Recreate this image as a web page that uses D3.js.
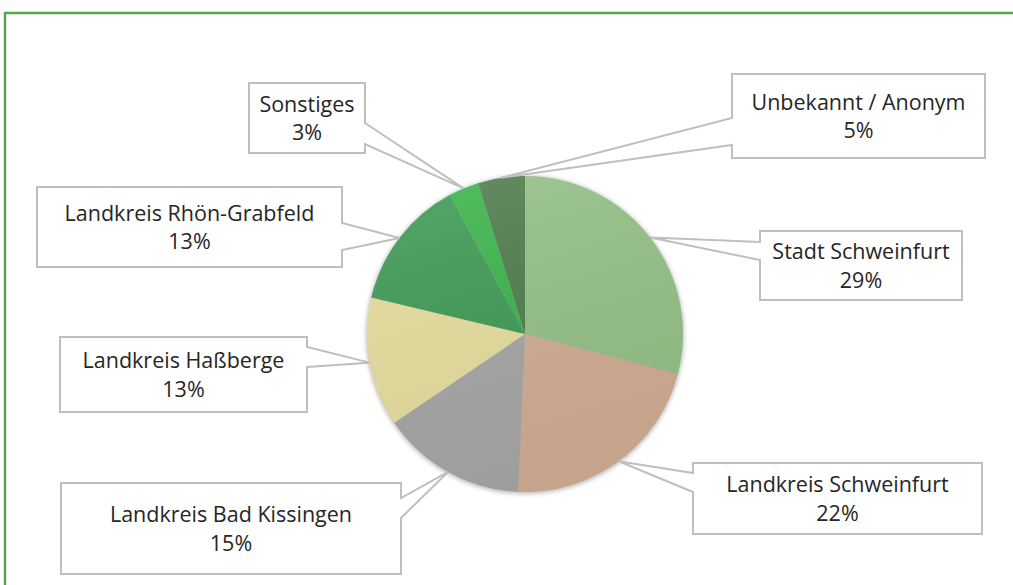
<!DOCTYPE html>
<meta charset="utf-8">
<style>
body { margin: 0; background: #fff; }
.label text { font: 21.5px "Open Sans", sans-serif; fill: #262626; }
</style>
<svg width="1013" height="585"></svg>
<script src="https://d3js.org/d3.v7.min.js"></script>
<script>

var names = ["Stadt Schweinfurt", "Landkreis Schweinfurt", "Landkreis Bad Kissingen",
    "Landkreis Haßberge", "Landkreis Rhön-Grabfeld", "Sonstiges", "Unbekannt / Anonym"];
var shares = [29.1, 21.6, 14.8, 13.2, 13.4, 3.1, 4.8];
var colors = ["#96c287", "#d3ae95", "#a8a8a8", "#e8df9f", "#409c57", "#3db64c", "#507f4e"];

// callout boxes: x, y, w, h, side the wedge leaves from, wedge start/end along that side
var boxes = [
  [760, 231, 202, 69, "left", 11, 29],
  [693, 463, 289, 71, "left", 10, 29],
  [61, 483, 340, 91, "right", 15, 35],
  [60, 337, 247, 75, "right", 10, 30],
  [37, 187, 305, 80, "right", 36, 63],
  [249, 83, 116, 70, "right", 40, 61],
  [732, 74, 253, 84, "left", 44, 71]
];

var svg = d3.select("svg"),
    cx = 525, cy = 334, radius = 158;

var defs = svg.append("defs");
var grad = defs.append("linearGradient")
    .attr("id", "shade").attr("x1", 0).attr("y1", 0).attr("x2", 0.3).attr("y2", 1);
grad.append("stop").attr("offset", "0%").attr("stop-color", "#fff").attr("stop-opacity", 0.12);
grad.append("stop").attr("offset", "100%").attr("stop-color", "#000").attr("stop-opacity", 0.06);

var blur = defs.append("filter").attr("id", "soft")
    .attr("x", "-10%").attr("y", "-10%").attr("width", "120%").attr("height", "120%");
blur.append("feGaussianBlur").attr("stdDeviation", 2);

// frame
svg.append("path")
    .attr("d", "M5,585V13H1013")
    .attr("fill", "none")
    .attr("stroke", "#52a84f")
    .attr("stroke-width", 2.5);

var data = names.map(function(n, i) { return {name: n, value: shares[i], color: colors[i]}; });

var pie = d3.pie().sort(null).value(function(d) { return d.value; });
var arc = d3.arc().innerRadius(0).outerRadius(radius);
var arcs = pie(data);

var g = svg.append("g").attr("transform", "translate(" + cx + "," + cy + ")");

g.append("circle").attr("r", radius + 1).attr("cy", 1)
    .attr("fill", "#bbb").attr("filter", "url(#soft)");

g.selectAll("path.slice").data(arcs).enter().append("path")
    .attr("class", "slice")
    .attr("d", arc)
    .attr("fill", function(d) { return d.data.color; });

g.append("circle").attr("r", radius).attr("fill", "url(#shade)");

// callouts
var lab = svg.append("g").attr("class", "label").selectAll("g").data(arcs).enter().append("g");

lab.append("path")
    .attr("fill", "#fff")
    .attr("stroke", "#bfbfbf")
    .attr("stroke-width", 2)
    .attr("stroke-linejoin", "miter")
    .attr("d", function(d, i) {
      var b = boxes[i], x = b[0], y = b[1], w = b[2], h = b[3];
      var a = (d.startAngle + d.endAngle) / 2;
      var tx = cx + radius * Math.sin(a), ty = cy - radius * Math.cos(a);
      if (b[4] === "left") {
        return "M" + x + "," + y + "H" + (x + w) + "V" + (y + h) + "H" + x +
            "V" + (y + b[6]) + "L" + tx + "," + ty + "L" + x + "," + (y + b[5]) + "Z";
      }
      return "M" + x + "," + y + "H" + (x + w) + "V" + (y + b[5]) + "L" + tx + "," + ty +
          "L" + (x + w) + "," + (y + b[6]) + "V" + (y + h) + "H" + x + "Z";
    });

var txt = lab.append("text")
    .attr("text-anchor", "middle")
    .attr("x", function(d, i) { return boxes[i][0] + boxes[i][2] / 2; })
    .attr("y", function(d, i) { return boxes[i][1] + boxes[i][3] / 2; });

txt.append("tspan")
    .attr("x", function(d, i) { return boxes[i][0] + boxes[i][2] / 2; })
    .attr("dy", "-0.3em")
    .text(function(d) { return d.data.name; });

txt.append("tspan")
    .attr("x", function(d, i) { return boxes[i][0] + boxes[i][2] / 2; })
    .attr("dy", "1.33em")
    .text(function(d) { return Math.round(d.data.value) + "%"; });

</script>
